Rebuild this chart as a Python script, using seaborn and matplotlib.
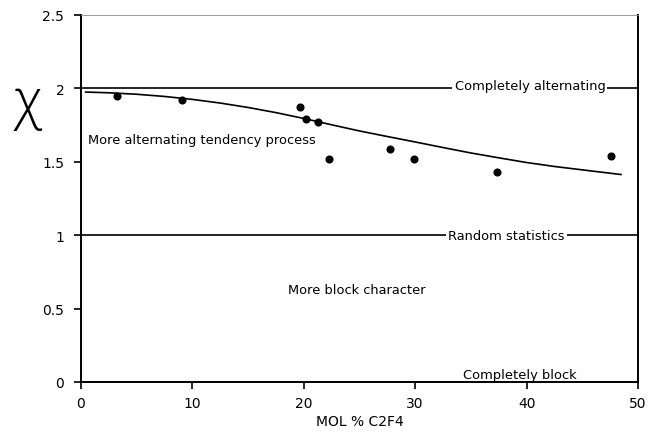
import matplotlib
matplotlib.use("Agg")
import matplotlib.pyplot as plt
import seaborn as sns
import pandas as pd

# Measured copolymer samples
mol_pct = [3.2, 9.1, 19.7, 20.2, 21.3, 22.3, 27.7, 29.9, 37.3, 47.6]
chi_vals = [1.95, 1.92, 1.87, 1.79, 1.77, 1.52, 1.59, 1.52, 1.43, 1.54]

# Fitted trend curve
curve_x = [0.4, 2.5, 5, 7.5, 10, 12.5, 15, 17.5, 20, 22.5, 25, 27.5, 30,
           32.5, 35, 37.5, 40, 42.5, 45, 48.5]
curve_y = [1.975, 1.970, 1.960, 1.945, 1.925, 1.900, 1.870, 1.835, 1.795,
           1.752, 1.710, 1.672, 1.635, 1.597, 1.560, 1.527, 1.495, 1.468,
           1.445, 1.413]

# Reference levels
ref_levels = [2.0, 1.0, 0.0]
ref_labels = ["Completely alternating", "Random statistics", "Completely block"]

x_ticks = [0, 10, 20, 30, 40, 50]
y_ticks = [0, 0.5, 1, 1.5, 2, 2.5]
y_tick_labels = ["0", "0.5", "1", "1.5", "2", "2.5"]

sns.set_theme(style="ticks")
plt.rcParams["font.family"] = ["DejaVu Sans"]

fig = plt.figure(figsize=(6.51, 4.39), dpi=100)
ax = fig.add_axes([0.1244, 0.1276, 0.8556, 0.836])

pts = pd.DataFrame({"mol": mol_pct, "chi": chi_vals})
fit = pd.DataFrame({"mol": curve_x, "chi": curve_y})

# reference lines
for lvl in ref_levels:
    ax.axhline(lvl, color="black", lw=1.2, zorder=1)

sns.lineplot(data=fit, x="mol", y="chi", ax=ax, color="black", lw=1.2,
             sort=False, zorder=3)
sns.scatterplot(data=pts, x="mol", y="chi", ax=ax, color="black", s=34,
                edgecolor="black", linewidth=0, zorder=4)

fs = 9.4
txt_kw = dict(fontsize=fs, color="black", va="center", ha="center")
box = dict(facecolor="white", edgecolor="none", pad=1.5)
ax.text(40.3, 2.02, ref_labels[0], bbox=box, zorder=5, **txt_kw)
ax.text(38.2, 1.0, ref_labels[1], bbox=box, zorder=5, **txt_kw)
ax.text(39.4, 0.05, ref_labels[2], zorder=5, **txt_kw)
ax.text(0.65, 1.65, "More alternating tendency process", fontsize=fs,
        va="center", ha="left", color="black")
ax.text(24.8, 0.63, "More block character", fontsize=fs, va="center",
        ha="center", color="black")

ax.set_xlim(0, 50)
ax.set_ylim(0, 2.5)
ax.set_xticks(x_ticks)
ax.set_yticks(y_ticks)
ax.set_yticklabels(y_tick_labels)
ax.set_xlabel("MOL % C2F4", fontsize=10, labelpad=3, color="black")
ax.set_ylabel("")
ax.tick_params(axis="both", labelsize=10, length=5, width=1.2, color="black",
               labelcolor="black")
ax.tick_params(axis="y", pad=7)
ax.tick_params(axis="x", pad=5)

for side in ["left", "bottom", "right"]:
    ax.spines[side].set_color("black")
    ax.spines[side].set_linewidth(1.4)
ax.spines["top"].set_visible(True)
ax.spines["top"].set_color("#8a8a8a")
ax.spines["top"].set_linewidth(0.6)

fig.text(0.042, 0.765, "χ", fontsize=40, ha="center", va="center",
         color="black", family=["Open Sans", "DejaVu Sans"], weight="light")

fig.savefig("out.png", dpi=100)
